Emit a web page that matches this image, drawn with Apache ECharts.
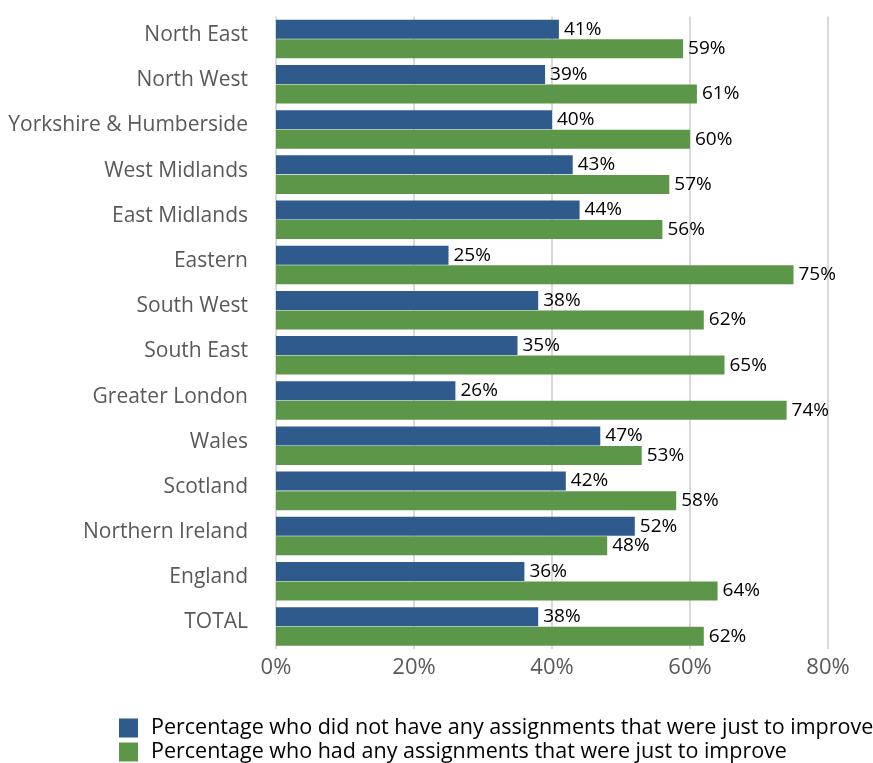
<!DOCTYPE html>
<html>
<head>
<meta charset="utf-8">
<script src="https://cdn.jsdelivr.net/npm/echarts@6/dist/echarts.min.js"></script>
<style>
  html, body { margin: 0; padding: 0; background: #fff; }
  #chart { width: 873px; height: 763px; }
</style>
</head>
<body>
<div id="chart"></div>
<script>
const regions = ['North East', 'North West', 'Yorkshire & Humberside', 'West Midlands', 'East Midlands',
  'Eastern', 'South West', 'South East', 'Greater London', 'Wales', 'Scotland',
  'Northern Ireland', 'England', 'TOTAL'];
const didNotHave = [41, 39, 40, 43, 44, 25, 38, 35, 26, 47, 42, 52, 36, 38];
const hadAny = [59, 61, 60, 57, 56, 75, 62, 65, 74, 53, 58, 48, 64, 62];
const seriesNames = ['Percentage who did not have any assignments that were just to improve',
  'Percentage who had any assignments that were just to improve'];
const xTicks = [0, 20, 40, 60, 80];

const FONT = 'Open Sans';
const chart = echarts.init(document.getElementById('chart'));
const labelStyle = {
  show: true, position: 'right', distance: 5,
  formatter: p => p.value + '%', color: '#000', fontSize: 19, fontFamily: FONT
};
chart.setOption({
  animation: false,
  textStyle: { fontFamily: FONT },
  grid: { left: 276, right: 45, top: 16.5, bottom: 114, containLabel: false },
  legend: {
    orient: 'vertical', left: 119, top: 717, padding: 0,
    itemWidth: 19, itemHeight: 19, itemGap: 2,
    icon: 'rect',
    textStyle: { fontSize: 21.5, color: '#000', fontFamily: FONT, padding: [0, 0, 0, 8] },
    data: seriesNames
  },
  xAxis: {
    type: 'value', min: xTicks[0], max: xTicks[xTicks.length - 1], interval: 20,
    axisLine: { show: false }, axisTick: { show: false },
    splitLine: { lineStyle: { color: '#d9d9d9', width: 2 } },
    axisLabel: { formatter: v => v + '%', color: '#595959', fontSize: 22, margin: 8, fontFamily: FONT }
  },
  yAxis: {
    type: 'category', data: regions, inverse: true,
    axisLine: { show: false }, axisTick: { show: false },
    axisLabel: { color: '#595959', fontSize: 21, margin: 28, fontFamily: FONT,
      verticalAlign: 'bottom', lineHeight: 8 }
  },
  series: [
    { name: seriesNames[0], type: 'bar', data: didNotHave, barWidth: 19, barGap: '3%',
      itemStyle: { color: '#2e5a8c' }, label: labelStyle },
    { name: seriesNames[1], type: 'bar', data: hadAny, barWidth: 19,
      itemStyle: { color: '#5c9749' }, label: labelStyle }
  ]
});
</script>
</body>
</html>
